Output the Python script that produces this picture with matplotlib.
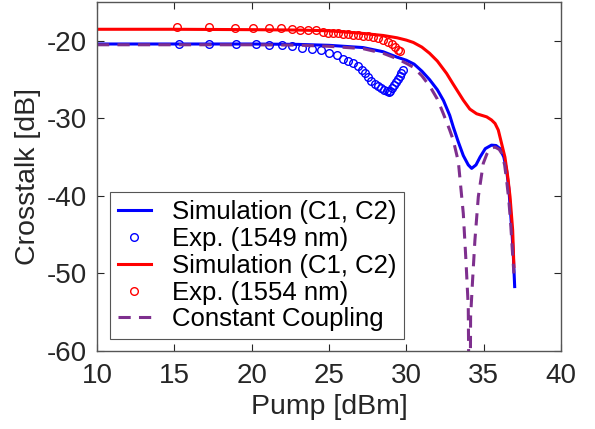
import matplotlib
matplotlib.use("Agg")
import matplotlib.pyplot as plt

plt.rcParams['font.family'] = ['Liberation Sans', 'DejaVu Sans']
plt.rcParams['axes.unicode_minus'] = False

# simulation, 1549 nm (blue)
sim_x_1549 = [10, 15, 20, 23, 25, 27.2, 28.5, 29.4, 30.0, 30.5, 31.0, 31.5, 32.0, 32.4,
              32.8, 33.03, 33.35, 33.68, 34.0, 34.22, 34.5, 34.76, 35.1, 35.5, 35.8,
              36.05, 36.3, 36.48, 36.62, 36.74, 36.85, 36.92, 37.0]
sim_y_1549 = [-20.4, -20.4, -20.4, -20.45, -20.57, -20.86, -21.4, -22.1, -22.5, -23.0,
              -23.9, -25.0, -26.3, -27.7, -29.6, -31.1, -33.0, -34.8, -36.0, -36.45,
              -36.0, -35.0, -33.9, -33.45, -33.5, -33.9, -35.0, -36.7, -39.0, -42.3,
              -45.5, -48.0, -51.7]

# simulation, 1554 nm (red)
sim_x_1554 = [10, 15, 20, 23, 25, 27, 28.5, 29.4, 30.0, 30.45, 31.0, 31.5, 32.0, 32.6,
              33.0, 33.68, 34.1, 34.54, 35.19, 35.5, 35.73, 35.94, 36.1, 36.37, 36.55,
              36.7, 36.87, 36.95]
sim_y_1554 = [-18.5, -18.5, -18.55, -18.6, -18.7, -19.0, -19.3, -19.6, -19.9, -20.2,
              -20.8, -21.6, -22.6, -24.2, -25.5, -27.65, -28.8, -29.4, -29.8, -30.2,
              -30.65, -31.5, -32.8, -35.0, -37.5, -40.1, -44.4, -49.1]

# constant coupling (purple dashed)
cc_x = [10, 15, 20, 23, 25, 27.2, 28.5, 29.4, 30.0, 30.45, 31.0, 31.53, 32.0, 32.39,
        32.8, 33.03, 33.36, 33.68, 33.86, 34.0, 34.1, 34.15, 34.28, 34.43, 34.65,
        34.97, 35.2, 35.4, 35.73, 36.0, 36.16, 36.35, 36.48, 36.62, 36.74, 36.85, 36.95]
cc_y = [-20.5, -20.5, -20.5, -20.55, -20.7, -21.0, -21.6, -22.3, -22.9, -23.4, -24.5,
        -25.9, -27.5, -29.4, -31.5, -32.8, -35.6, -42.3, -48.7, -54.3, -80, -55.6,
        -50.85, -45.7, -40.1, -35.8, -34.6, -33.9, -33.7, -34.0, -34.5, -36.0, -38.0,
        -40.5, -43.55, -47.0, -50.0]

# measurements
exp_x_1549 = [15.3, 17.25, 19.0, 20.25, 21.15, 21.95, 22.62, 23.27, 23.88, 24.45, 25.03,
              25.5, 25.92, 26.25, 26.57, 26.88, 27.1, 27.3, 27.52, 27.72, 27.94, 28.15,
              28.35, 28.55, 28.72, 28.85, 28.97, 29.1, 29.22, 29.34, 29.45, 29.56,
              29.68, 29.78]
exp_y_1549 = [-20.35, -20.45, -20.45, -20.45, -20.5, -20.55, -20.6, -20.9, -21.0, -21.2,
              -21.5, -21.85, -22.3, -22.6, -22.9, -23.3, -23.8, -24.2, -24.7, -25.2,
              -25.5, -25.85, -26.1, -26.35, -26.5, -26.6, -26.4, -26.1, -25.7, -25.3,
              -24.9, -24.5, -24.1, -23.7]

exp_x_1554 = [15.15, 17.24, 18.92, 20.1, 21.12, 21.87, 22.58, 23.12, 23.66, 24.14, 24.59,
              24.95, 25.28, 25.6, 25.92, 26.25, 26.57, 26.9, 27.21, 27.54, 27.86, 28.18,
              28.5, 28.83, 29.05, 29.26, 29.48, 29.59]
exp_y_1554 = [-18.2, -18.2, -18.3, -18.3, -18.35, -18.4, -18.5, -18.55, -18.55, -18.6,
              -18.85, -19.0, -19.0, -19.0, -19.06, -19.15, -19.19, -19.24, -19.32,
              -19.41, -19.5, -19.63, -19.83, -20.14, -20.35, -20.79, -21.12, -21.3]

purple = (0.494, 0.184, 0.556)

fig = plt.figure(figsize=(5.95, 4.29), dpi=100)
ax = fig.add_axes([0.163, 0.182, 0.78, 0.813])

ax.plot(sim_x_1549, sim_y_1549, color='blue', lw=2.2, label='Simulation (C1, C2)')
ax.plot(exp_x_1549, exp_y_1549, 'o', mfc='none', mec='blue', ms=5.5, mew=1,
        label='Exp. (1549 nm)')
ax.plot(sim_x_1554, sim_y_1554, color='red', lw=2.2, label='Simulation (C1, C2)')
ax.plot(exp_x_1554, exp_y_1554, 'o', mfc='none', mec='red', ms=5.5, mew=1,
        label='Exp. (1554 nm)')
ax.plot(cc_x, cc_y, '--', color=purple, lw=2.2, dashes=(4, 2.7),
        label='Constant Coupling')

ax.set_xlim(10, 40)
ax.set_ylim(-60, -15)
ax.set_xticks([10, 15, 20, 25, 30, 35, 40])
ax.set_yticks([-60, -50, -40, -30, -20])
ax.set_xlabel('Pump [dBm]', fontsize=20.5, color='#262626', labelpad=3)
ax.set_ylabel('Crosstalk [dB]', fontsize=20.5, color='#262626', labelpad=4)
ax.tick_params(axis='both', labelsize=20, direction='in', length=5,
               colors='#262626', top=True, right=True)
ax.tick_params(axis='x', pad=9)
ax.tick_params(axis='y', pad=7)
for s in ax.spines.values():
    s.set_color('#555555')
    s.set_linewidth(1)

leg = ax.legend(loc='lower left', bbox_to_anchor=(0.028, 0.034), borderaxespad=0,
                fontsize=18.5, numpoints=1, handlelength=1.3, handletextpad=0.8,
                borderpad=0.3, labelspacing=0.11, fancybox=False, framealpha=1)
leg.get_frame().set_edgecolor('#555555')
leg.get_frame().set_linewidth(0.8)

fig.savefig('out.png', dpi=100)
